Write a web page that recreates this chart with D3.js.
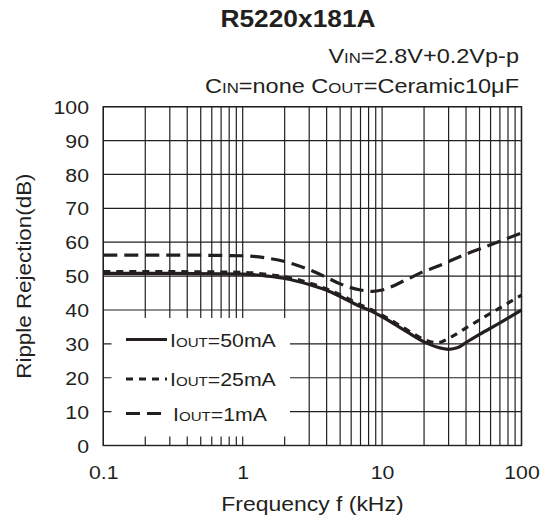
<!DOCTYPE html>
<html><head><meta charset="utf-8">
<script src="https://cdn.jsdelivr.net/npm/d3@7"></script>
<style>
html,body{margin:0;padding:0;background:#fff;}
text{font-family:"Liberation Sans",Arial,Helvetica,sans-serif;fill:#231f20;}
</style></head>
<body><svg id="c" width="550" height="523"></svg>
<script>
// ---- data ----
const freqs = [0.1, 0.3, 1, 1.5, 2, 3, 4, 5, 7, 8.5, 10, 15, 20, 25, 30, 35, 40, 50, 70, 100];
const rr50mA = [50.8, 50.8, 50.6, 50.0, 49.3, 47.5, 45.8, 44.0, 41.0, 39.5, 38.0, 33.6, 30.6, 29.0, 28.4, 28.9, 30.4, 32.8, 36.2, 40.0];
const rr25mA = [51.3, 51.3, 51.1, 50.5, 49.8, 48.0, 46.2, 44.5, 41.5, 40.0, 38.5, 34.2, 31.3, 30.3, 31.6, 33.2, 34.7, 37.1, 40.6, 44.4];
const rr1mA  = [56.2, 56.2, 56.0, 55.3, 54.3, 51.9, 49.6, 47.7, 45.9, 45.5, 45.9, 49.0, 51.4, 52.9, 54.3, 55.5, 56.5, 58.0, 60.3, 62.7];
const seriesNames = ["50mA", "25mA", "1mA"];
const xTickLabels = [0.1, 1, 10, 100];
const yTickLabels = [0, 10, 20, 30, 40, 50, 60, 70, 80, 90, 100];

const ink = "#231f20";
const SX = 1.12; // horizontal text stretch
const svg = d3.select("#c");
const L = 103.3, R = 521.5, T = 106.7, B = 445.5;
const x = d3.scaleLog().domain([0.1, 100]).range([L, R]);
const y = d3.scaleLinear().domain([0, 100]).range([B, T]);

function txt(px, py, anchor, size, weight, parts, rot) {
  const t = svg.append("text")
    .attr("transform", `translate(${px},${py})` + (rot ? ` rotate(${rot})` : "") + ` scale(${SX},1)`)
    .attr("text-anchor", anchor).attr("font-size", size).attr("font-weight", weight || "normal");
  parts.forEach(p => t.append("tspan").attr("font-size", p[1] || size).text(p[0]));
  return t;
}

// grid
const g = svg.append("g");
g.selectAll("line.v").data(x.ticks()).enter().append("line")
  .attr("x1", d => x(d)).attr("x2", d => x(d)).attr("y1", T).attr("y2", B)
  .attr("stroke", ink).attr("stroke-width", 1.2);
g.selectAll("line.h").data(yTickLabels).enter().append("line")
  .attr("x1", L).attr("x2", R).attr("y1", d => y(d)).attr("y2", d => y(d))
  .attr("stroke", ink).attr("stroke-width", 1.2);

// legend backdrop
svg.append("rect").attr("x", 111.5).attr("y", y(40) + 8).attr("width", 290 - 111.5)
  .attr("height", (y(0) - 9) - (y(40) + 8)).attr("fill", "#fff");

// frame
svg.append("rect").attr("x", L).attr("y", T).attr("width", R - L).attr("height", B - T)
  .attr("fill", "none").attr("stroke", ink).attr("stroke-width", 1.4);

// axes labels
const ya = svg.append("g").attr("transform", `translate(${L},0)`)
  .call(d3.axisLeft(y).tickValues(yTickLabels).tickSize(0).tickPadding(12.8).tickFormat(d3.format("d")));
ya.select(".domain").remove();
ya.selectAll("text").attr("font-size", 19).attr("fill", ink).attr("font-family", null)
  .attr("dy", "0.35em").attr("transform", `scale(${SX},1)`);
const xa = svg.append("g").attr("transform", `translate(0,${B})`)
  .call(d3.axisBottom(x).tickValues(xTickLabels).tickSize(0).tickPadding(20).tickFormat(d => String(d)));
xa.select(".domain").remove();
xa.selectAll("text").attr("font-size", 19).attr("fill", ink).attr("font-family", null)
  .attr("dy", "0.71em").attr("transform", `scale(${SX},1)`);

// curves
const styles = [
  {dash: null},
  {dash: "7,6"},
  {dash: "14,7"}
];
const data = [rr50mA, rr25mA, rr1mA];
const line = d3.line().x(d => x(d[0])).y(d => y(d[1])).curve(d3.curveMonotoneX);
data.forEach((vals, i) => {
  svg.append("path").datum(freqs.map((f, k) => [f, vals[k]]))
    .attr("d", line).attr("fill", "none").attr("stroke", ink).attr("stroke-width", 3.2)
    .attr("stroke-dasharray", styles[i].dash);
});

// legend
const legY = [339.5, 379, 413.5];
const legX2 = [167, 167, 163];
const legTextX = [170, 170, 173];
seriesNames.forEach((n, i) => {
  svg.append("line").attr("x1", 126).attr("x2", legX2[i]).attr("y1", legY[i]).attr("y2", legY[i])
    .attr("stroke", ink).attr("stroke-width", 3.2).attr("stroke-dasharray", styles[i].dash);
  txt(legTextX[i], legY[i] + 7, "start", 19, "normal", [["I"], ["OUT", 13.5], ["=" + n]]);
});

// titles
txt(298, 27, "middle", 23.5, "bold", [["R5220x181A"]]);
txt(519, 62.5, "end", 21, "normal", [["V"], ["IN", 15], ["=2.8V+0.2Vp-p"]]);
txt(519, 93, "end", 21, "normal", [["C"], ["IN", 15], ["=none C"], ["OUT", 15], ["=Ceramic10μF"]]);
txt((L + R) / 2, 510.5, "middle", 20.5, "normal", [["Frequency f (kHz)"]]);
txt(31, (T + B) / 2, "middle", 20, "normal", [["Ripple Rejection(dB)"]], -90);
</script></body></html>
